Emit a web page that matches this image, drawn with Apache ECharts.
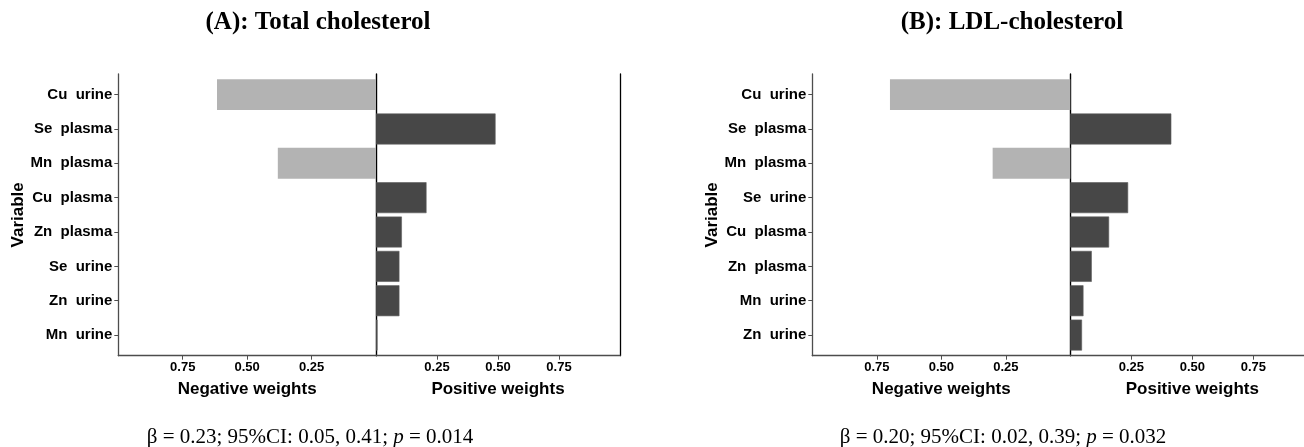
<!DOCTYPE html>
<html>
<head>
<meta charset="utf-8">
<script src="https://cdn.jsdelivr.net/npm/echarts@6/dist/echarts.min.js"></script>
<style>
  html, body { margin: 0; padding: 0; background: #ffffff; }
  #chart { width: 1304px; height: 447px; }
</style>
</head>
<body>
<div id="chart"></div>
<script>
// Weighted quantile sum weights, split into negative and positive directions.
const categoriesA = ['Cu  urine', 'Se  plasma', 'Mn  plasma', 'Cu  plasma', 'Zn  plasma', 'Se  urine', 'Zn  urine', 'Mn  urine'];
const negativeA   = [0.617, null, 0.381, null, null, null, null, null];
const positiveA   = [null, 0.490, null, 0.207, 0.106, 0.096, 0.096, 0.006];

const categoriesB = ['Cu  urine', 'Se  plasma', 'Mn  plasma', 'Se  urine', 'Cu  plasma', 'Zn  plasma', 'Mn  urine', 'Zn  urine'];
const negativeB   = [0.699, null, 0.301, null, null, null, null, null];
const positiveB   = [null, 0.414, null, 0.237, 0.159, 0.088, 0.054, 0.048];

const tickValues = [0.25, 0.50, 0.75];
const titles = ['(A): Total cholesterol', '(B): LDL-cholesterol'];
const betas  = ['0.23', '0.20'];
const cis    = ['0.05, 0.41', '0.02, 0.39'];
const pvals  = ['0.014', '0.032'];

const SANS = "'Liberation Sans', Arial, sans-serif";
const SERIF = "'Liberation Serif', 'Times New Roman', serif";

// Panel geometry
const plotTop = 74, frameH = 281.7;
const unit = frameH / 8.2;           // discrete axis padded by 0.6 of a band each side
const dataTop = plotTop + 0.1 * unit, dataH = unit * 8;
const panels = [
  { left: 118.3, center: 376.0, cats: categoriesA, neg: negativeA, pos: positiveA, titleX: 318, betaX: 310 },
  { left: 812.3, center: 1070.3, cats: categoriesB, neg: negativeB, pos: positiveB, titleX: 1012, betaX: 1003 }
];
const posW = 244;

const grid = [], xAxis = [], yAxis = [], series = [], graphic = [];

panels.forEach((p, i) => {
  const negW = p.center - p.left;
  const g0 = grid.length;
  // data grids (neg, pos) and frame grids (neg, pos)
  grid.push({ left: p.left, top: dataTop, width: negW, height: dataH, containLabel: false, outerBoundsMode: 'none' });
  grid.push({ left: p.center, top: dataTop, width: posW, height: dataH, containLabel: false, outerBoundsMode: 'none' });
  grid.push({ left: p.left, top: plotTop, width: negW, height: frameH, containLabel: false, outerBoundsMode: 'none' });
  grid.push({ left: p.center, top: plotTop, width: posW, height: frameH, containLabel: false, outerBoundsMode: 'none' });

  const x0 = xAxis.length;
  xAxis.push({ gridIndex: g0, type: 'value', min: 0, max: 1, inverse: true, show: false });
  xAxis.push({ gridIndex: g0 + 1, type: 'value', min: 0, max: 1, show: false });
  const frameX = (inv, name) => ({
    type: 'value', min: 0, max: 1, inverse: inv,
    axisLine: { show: true, onZero: false, lineStyle: { color: '#4d4d4d', width: 1.3 } },
    axisTick: { show: true, length: 4, customValues: tickValues, lineStyle: { color: '#4d4d4d', width: 1 } },
    axisLabel: { show: true, customValues: tickValues, formatter: v => v.toFixed(2), margin: 5,
                 color: '#000', fontFamily: SANS, fontWeight: 'bold', fontSize: 13 },
    splitLine: { show: false },
    name: name, nameLocation: 'middle', nameGap: 25,
    nameTextStyle: { color: '#000', fontFamily: SANS, fontWeight: 'bold', fontSize: 17 }
  });
  xAxis.push(Object.assign({ gridIndex: g0 + 2 }, frameX(true, 'Negative weights')));
  xAxis.push(Object.assign({ gridIndex: g0 + 3 }, frameX(false, 'Positive weights')));

  const y0 = yAxis.length;
  yAxis.push({
    gridIndex: g0, type: 'category', data: p.cats, inverse: true, position: 'left',
    axisLine: { show: false, onZero: false },
    axisTick: { show: true, alignWithLabel: true, length: 4, lineStyle: { color: '#4d4d4d', width: 1 } },
    axisLabel: { margin: 6, color: '#000', fontFamily: SANS, fontWeight: 'bold', fontSize: 15 },
    name: 'Variable', nameLocation: 'middle', nameRotate: 90, nameGap: 90,
    nameTextStyle: { color: '#000', fontFamily: SANS, fontWeight: 'bold', fontSize: 17 }
  });
  yAxis.push({ gridIndex: g0 + 1, type: 'category', data: p.cats, inverse: true, show: false });
  const frameY = (gi, pos, color, w) => ({
    gridIndex: gi, type: 'value', min: 0, max: 1, position: pos,
    axisLine: { show: true, onZero: false, lineStyle: { color: color, width: w } },
    axisTick: { show: false }, axisLabel: { show: false }, splitLine: { show: false }
  });
  yAxis.push(frameY(g0 + 2, 'left', '#4d4d4d', 1.3));
  yAxis.push(frameY(g0 + 3, 'left', '#000', 1.4));
  yAxis.push(frameY(g0 + 3, 'right', '#000', 1.3));

  series.push({
    type: 'bar', xAxisIndex: x0, yAxisIndex: y0, data: p.neg,
    barCategoryGap: '10%', itemStyle: { color: '#b3b3b3' }, silent: true
  });
  series.push({
    type: 'bar', xAxisIndex: x0 + 1, yAxisIndex: y0 + 1, data: p.pos,
    barCategoryGap: '10%', itemStyle: { color: '#474747', borderColor: '#5e5e5e', borderWidth: 0.6 }, silent: true
  });

  graphic.push({
    type: 'text', x: p.titleX, y: 23,
    style: { text: titles[i], textAlign: 'center', textVerticalAlign: 'middle',
             font: "bold 25px " + SERIF, fill: '#000' }
  });
  graphic.push({
    type: 'text', x: p.betaX, y: 437,
    style: {
      text: '{n|\u03b2 = ' + betas[i] + '; 95%CI: ' + cis[i] + '; }{i|p}{n| = ' + pvals[i] + '}',
      textAlign: 'center', textVerticalAlign: 'middle',
      rich: {
        n: { fontFamily: SERIF, fontSize: 21, fill: '#000' },
        i: { fontFamily: SERIF, fontSize: 21, fontStyle: 'italic', fill: '#000' }
      }
    }
  });
});

const chart = echarts.init(document.getElementById('chart'), null, { renderer: 'canvas' });
chart.setOption({
  animation: false,
  backgroundColor: '#ffffff',
  grid, xAxis, yAxis, series, graphic
});
</script>
</body>
</html>
